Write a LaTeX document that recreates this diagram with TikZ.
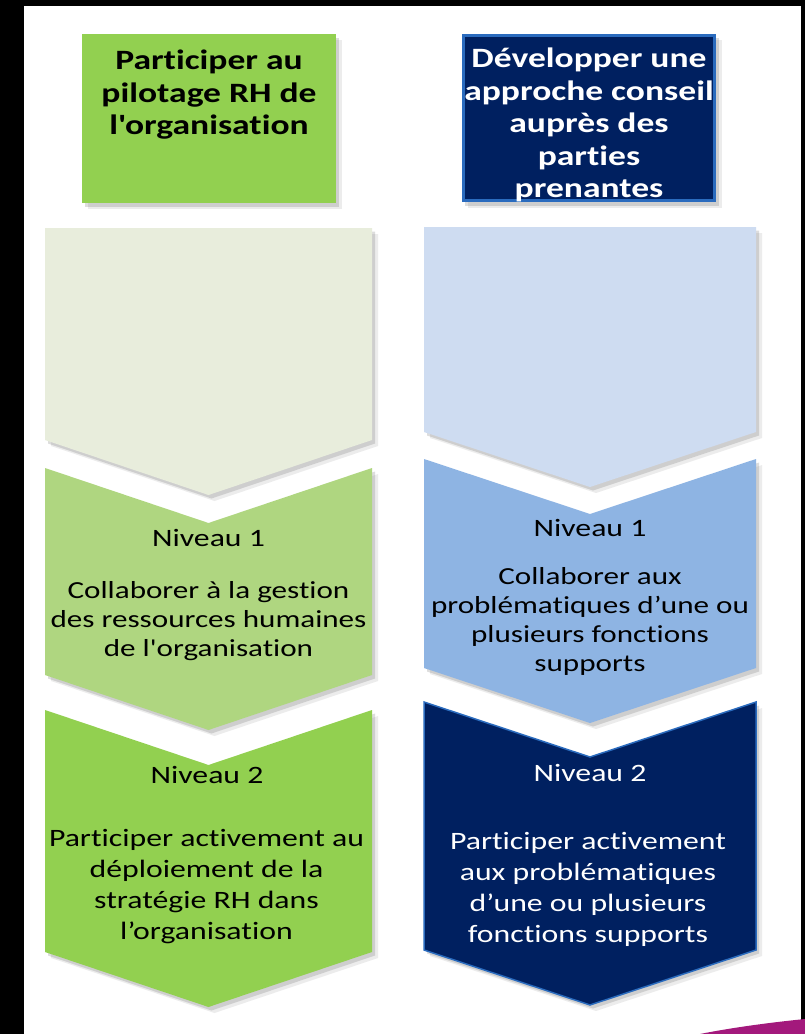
\documentclass[tikz,border=0pt]{standalone}
\usepackage{fontspec}
\setmainfont{Carlito}[FakeStretch=1.27,Ligatures={TeXOff,CommonOff}]
\usetikzlibrary{shadows}
\definecolor{hgreen}{HTML}{92D050}
\definecolor{palegreen}{HTML}{E8EDDC}
\definecolor{lightgreen}{HTML}{AFD680}
\definecolor{navy}{HTML}{002060}
\definecolor{navyedge}{HTML}{2A6BBE}
\definecolor{paleblue}{HTML}{CEDCF1}
\definecolor{lightblue}{HTML}{8EB4E3}
\definecolor{swoosh}{HTML}{A3197C}
\tikzset{
  shad/.style={drop shadow={opacity=0.12,shadow xshift=6pt,shadow yshift=-6pt,fill=black!60},
               drop shadow={opacity=0.22,shadow xshift=3pt,shadow yshift=-3.5pt,fill=black!60}},
  hdr/.style={align=center,font=\fontsize{28}{32.5}\selectfont\bfseries,inner sep=0pt},
  lvl/.style={font=\fontsize{25}{29}\selectfont,inner sep=0pt},
  body/.style={align=center,font=\fontsize{24.5}{29}\selectfont,inner sep=0pt},
  bodyb/.style={align=center,font=\fontsize{25}{31}\selectfont,inner sep=0pt},
}
\begin{document}
\begin{tikzpicture}[x=1pt,y=-1pt]
\useasboundingbox (0,0) rectangle (805,1034);
\fill[white] (0,0) rectangle (805,1034);
% frame
\fill[black] (0,0) rectangle (24,1034);
\fill[black] (0,0) rectangle (805,6);
\fill[black] (801,0) rectangle (805,1034);
\fill[swoosh] (700,1034) .. controls (735,1027) and (775,1022) .. (805,1019) -- (805,1034) -- cycle;

% headers
\fill[hgreen,shad] (82,34) rectangle (336,203);
\fill[navy,shad] (462,34) rectangle (716,202);
\draw[navyedge,line width=3pt] (463.5,35.5) rectangle (714.5,200.5);

% left column chevrons
\fill[palegreen,shad] (45,228) -- (372,228) -- (372,440) -- (208.5,495) -- (45,440) -- cycle;
\fill[lightgreen,shad] (45,468) -- (208.5,523) -- (372,468) -- (372,675) -- (208.5,730) -- (45,675) -- cycle;
\fill[hgreen,shad] (45,710) -- (208.5,765) -- (372,710) -- (372,952) -- (208.5,1007) -- (45,952) -- cycle;

% right column chevrons
\fill[paleblue,shad] (424,227) -- (756,227) -- (756,432) -- (590,487) -- (424,432) -- cycle;
\fill[lightblue,shad] (424,459) -- (590,514) -- (756,459) -- (756,668) -- (590,723) -- (424,668) -- cycle;
\filldraw[fill=navy,draw=navyedge,line width=1.5pt,shad] (424,702) -- (590,757) -- (756,702) -- (756,950) -- (590,1005) -- (424,950) -- cycle;

% texts
\node[hdr] (h1) at (209,95) {Participer au\\pilotage RH de\\l'organisation};
\node[hdr,text=white] (h2) at (589,125) {Développer une\\approche conseil\\auprès des\\parties\\prenantes};

\node[lvl] (l1) at (208.5,538) {Niveau 1};
\node[body] (l1t) at (208.5,621) {Collaborer à la gestion\\des ressources humaines\\de l'organisation};
\node[lvl] (l2) at (207,775) {Niveau 2};
\node[bodyb] (l2t) at (206.5,887) {Participer activement au\\déploiement de la\\stratégie RH dans\\l’organisation};

\node[lvl] (r1) at (590,528) {Niveau 1};
\node[body] (r1t) at (590,621.5) {Collaborer aux\\problématiques d’une ou\\plusieurs fonctions\\supports};
\node[lvl,text=white] (r2) at (590,773) {Niveau 2};
\node[bodyb,text=white] (r2t) at (588,889) {Participer activement\\aux problématiques\\d’une ou plusieurs\\fonctions supports};
\end{tikzpicture}
\end{document}
